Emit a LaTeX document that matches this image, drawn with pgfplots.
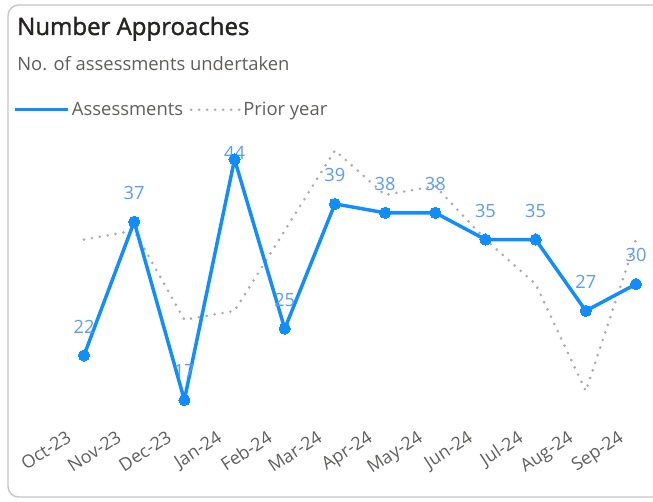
\documentclass[border=0pt]{standalone}
\usepackage{fontspec}
\setmainfont{Open Sans}
\newfontfamily\titlefont[FakeBold=1.6]{Open Sans}
\usepackage{pgfplots}
\usepackage{pgfplotstable}
\pgfplotsset{compat=1.18}
\definecolor{pbblue}{HTML}{118DFF}
\definecolor{lblblue}{HTML}{5A9BFF}
\definecolor{pgray}{HTML}{ABABAB}
\definecolor{txtgray}{HTML}{605E5C}
\definecolor{ttl}{HTML}{252423}
\definecolor{cardborder}{HTML}{C8C6C4}
\pgfplotsset{
  legA/.style={legend image code/.code={\draw[##1] (0pt,0pt) -- (40pt,0pt);}},
  legB/.style={legend image code/.code={\draw[##1] (2pt,0pt) -- (38pt,0pt);}},
}

\pgfplotstableread{
x y dy
0 22 21.75
1 37 21.75
2 17 21.75
3 44 4.5
4 25 21.75
5 39 21.75
6 38 21.75
7 38 21.75
8 35 21.75
9 35 21.75
10 27 21.75
11 30 21.75
}\cur

\pgfplotstableread{
x y
0 35
1 36
2 26
3 27
4 36
5 45
6 40
7 41
8 35
9 30
10 18
11 35
}\prior

\begin{document}
\begin{tikzpicture}
\useasboundingbox (0,0) rectangle (489.75pt,375.75pt);
\draw[cardborder, line width=1.1pt, rounded corners=8pt] (6pt,3pt) rectangle (505pt,372pt);
\node[anchor=base west, inner sep=0pt, font=\titlefont\fontsize{18}{21}\selectfont, text=ttl] at (12.75pt,349.5pt) {Number Approaches};
\node[anchor=base west, inner sep=0pt, font=\fontsize{13.8}{16}\selectfont, text=txtgray] at (12.75pt,323.25pt) {No. of assessments undertaken};
\begin{axis}[
  at={(63pt,75.75pt)}, anchor=south west,
  scale only axis, width=414pt, height=187.2pt,
  xmin=0, xmax=11, ymin=17, ymax=45,
  clip=false,
  axis line style={draw=none},
  tick style={draw=none},
  ytick=\empty,
  xtick={0,...,11},
  xticklabels={Oct-23,Nov-23,Dec-23,Jan-24,Feb-24,Mar-24,Apr-24,May-24,Jun-24,Jul-24,Aug-24,Sep-24},
  xticklabel style={font=\fontsize{13.4}{15}\selectfont, text=txtgray, inner sep=0pt, xshift=-14pt, yshift=-22pt, rotate=33, anchor=north east},
  legend style={at={(-0.129,1.163)}, anchor=west, draw=none, fill=none, legend columns=2,
    font=\fontsize{13.8}{16}\selectfont, text=txtgray, inner sep=0pt,
    /tikz/every even column/.append style={column sep=3pt}},
  legend cell align=left,
]
\addlegendimage{pbblue, line width=2.2pt, legA}
\addlegendentry{Assessments}
\addplot[pgray, line width=2.2pt, line cap=round, dash pattern=on 0pt off 6pt, legB] table[x=x,y=y]{\prior};
\addlegendentry{Prior year}
\addplot[draw=none, mark=none, forget plot,
  point meta=explicit symbolic,
  visualization depends on={\thisrow{dy} \as \dy},
  nodes near coords,
  nodes near coords style={anchor=center, yshift=\dy pt, font=\fontsize{13.7}{16}\selectfont, text=lblblue, inner sep=0pt}]
  table[x=x,y=y,meta=y]{\cur};
\addplot[pbblue, line width=2.6pt, line join=round, forget plot, mark=*, mark size=4.2pt,
  mark options={solid, fill=pbblue, draw=pbblue, line width=0pt}] table[x=x,y=y]{\cur};
\end{axis}
\end{tikzpicture}
\end{document}
